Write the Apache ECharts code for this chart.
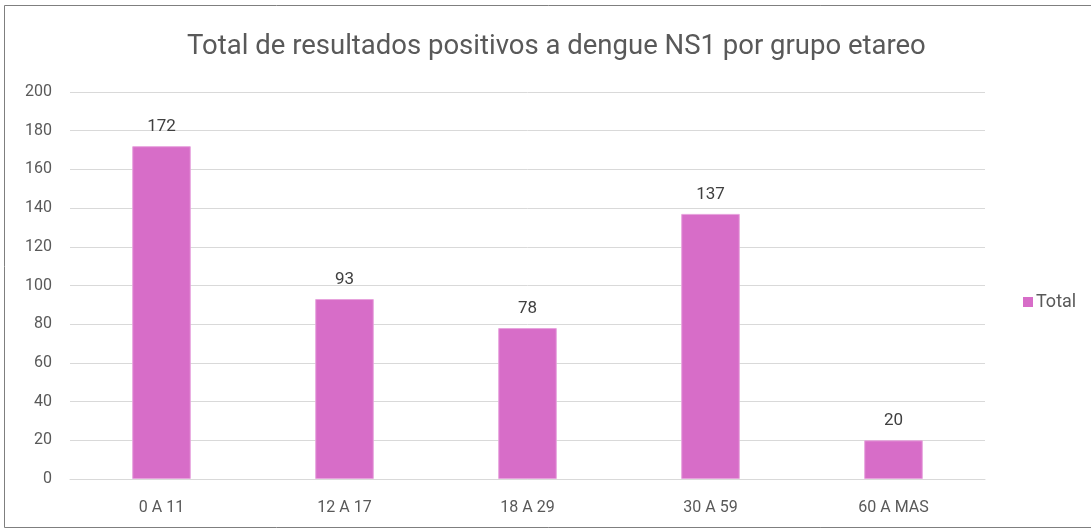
<!DOCTYPE html>
<html>
<head>
<meta charset="utf-8">
<script src="https://cdn.jsdelivr.net/npm/echarts@6/dist/echarts.min.js"></script>
<style>
  html, body { margin: 0; padding: 0; background: #fff; }
  #chart { width: 1091px; height: 530px; }
</style>
</head>
<body>
<div id="chart"></div>
<script>
var categories = ["0 A 11", "12 A 17", "18 A 29", "30 A 59", "60 A MAS"];
var totals = [172, 93, 78, 137, 20];
var seriesName = "Total";
var titleText = "Total de resultados positivos a dengue NS1 por grupo etareo";

var myChart = echarts.init(document.getElementById("chart"));

var option = {
  backgroundColor: "#ffffff",
  animation: false,
  title: {
    text: titleText,
    left: 182,
    top: 28,
    textStyle: {
      fontFamily: "Roboto",
      fontWeight: "normal",
      fontSize: 27.5,
      color: "#595959"
    }
  },
  legend: {
    orient: "vertical",
    left: 1018,
    top: 288,
    itemWidth: 10,
    itemHeight: 10,
    icon: "rect",
    itemStyle: { borderWidth: 0 },
    textStyle: {
      fontFamily: "Roboto",
      fontSize: 18,
      color: "#595959",
      padding: [0, 0, 0, -2]
    },
    data: [seriesName]
  },
  grid: {
    left: 70,
    right: 106,
    top: 92,
    bottom: 51
  },
  xAxis: {
    type: "category",
    data: categories,
    axisTick: { show: false },
    axisLine: { lineStyle: { color: "#d9d9d9", width: 1 } },
    axisLabel: {
      color: "#595959",
      fontFamily: "Roboto",
      fontSize: 16,
      margin: 21
    }
  },
  yAxis: {
    type: "value",
    min: 0,
    max: 200,
    interval: 20,
    axisLine: { show: false },
    axisTick: { show: false },
    axisLabel: {
      color: "#595959",
      fontFamily: "Roboto",
      fontSize: 16,
      margin: 18
    },
    splitLine: { lineStyle: { color: "#d9d9d9", width: 1 } }
  },
  series: [
    {
      name: seriesName,
      type: "bar",
      data: totals,
      barWidth: "32%",
      itemStyle: { color: "#d76dc8", borderColor: "#e7a3dd", borderWidth: 1 },
      label: {
        show: true,
        position: "top",
        distance: 11,
        color: "#404040",
        fontFamily: "Roboto",
        fontSize: 17
      }
    }
  ],
  graphic: [
    {
      type: "rect",
      shape: { x: 4.5, y: 5.5, width: 1090, height: 522 },
      style: { fill: "none", stroke: "#7f7f7f", lineWidth: 1 },
      silent: true
    }
  ]
};

myChart.setOption(option);
</script>
</body>
</html>
